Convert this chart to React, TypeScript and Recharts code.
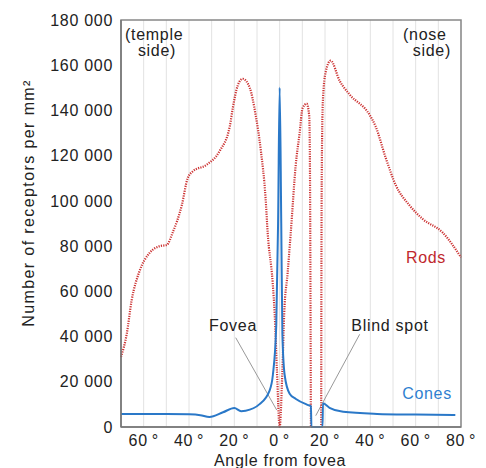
import React from "react";
import {
  LineChart,
  Line,
  XAxis,
  YAxis,
  CartesianGrid,
  ReferenceArea,
  ReferenceLine,
} from "recharts";

// Rod density (receptors / mm²) against angle from fovea, temple side negative.
const rodAngles = [
  -70, -67.5, -65.3, -61.8, -57.4, -52.9, -49.8, -47.2, -43.2, -40.6, -38.4, -32.2,
  -26.5, -22, -20.7, -18.5, -16.3, -13.2, -10.6, -8.4, -6.2, -5.3, -3.1, -2.2, -1.2,
  0, 1.2, 2, 3.5, 4.9, 7.1, 8.8, 10.1, 11.9, 13, 13.3, 13.5, 13.65, 13.8, 18.3, 18.4,
  18.6, 19.1, 20.3, 22.5, 26.5, 30.9, 39.7, 42.3, 46.8, 51.2, 57.3, 63.1, 71.9, 80,
];
const rodValues = [
  31000, 41000, 56000, 69000, 77000, 80000, 80500, 86000, 98000, 110000, 113000, 116000,
  122000, 133000, 141000, 151000, 154000, 150000, 138000, 123000, 101000, 86000, 64000,
  50000, 25000, 0, 25000, 50000, 68000, 86000, 116000, 130000, 141000, 143000, 138000,
  123000, 86000, 40000, 0, 0, 60000, 116000, 145000, 157000, 162000, 153000, 147000,
  138000, 133000, 119000, 107000, 98000, 92000, 86000, 75000,
];

// Cone density, same axis.
const coneAngles = [
  -70, -60, -50, -40, -35, -31, -25, -20, -17, -15, -9, -4.5, -3, -1.5, -0.7, 0, 0.7,
  1.2, 2.2, 4.4, 7, 12.3, 13.8, 14, 18.9, 19.1, 22, 28, 43, 60, 77.5,
];
const coneValues = [
  5800, 5800, 5800, 5600, 5200, 4400, 6500, 8400, 7000, 7200, 10000, 16000, 23000, 45000,
  90000, 150000, 90000, 41000, 23000, 14700, 12500, 9800, 9200, 0, 0, 10500, 8500, 6700,
  5800, 5500, 5300,
];

const xTicks = [-70, -60, -50, -40, -30, -20, -10, 0, 10, 20, 30, 40, 50, 60, 70, 80];
const yTicks = [0, 20000, 40000, 60000, 80000, 100000, 120000, 140000, 160000, 180000];

const rodData = rodAngles.map((a, i) => ({ angle: a, v: rodValues[i] }));
const coneData = coneAngles.map((a, i) => ({ angle: a, v: coneValues[i] }));

const font = "'Liberation Sans', Arial, sans-serif";
const tickStyle = { fill: "#222", fontSize: 16, fontFamily: font, letterSpacing: 0.7 };

const xFmt = (v: number) => (v % 20 === 0 ? `${Math.abs(v)}\u2009°` : "");
const yFmt = (v: number) => (v === 0 ? "0" : `${v / 1000} 000`);

const textBase: React.CSSProperties = {
  position: "absolute",
  fontFamily: font,
  fontSize: 16,
  letterSpacing: 0.7,
  lineHeight: "16px",
  color: "#222",
  whiteSpace: "pre",
};

function Note({ x, y, text, color, align = "center" }: {
  x: number; y: number; text: string; color?: string; align?: "center" | "left" | "right";
}) {
  const shift = align === "center" ? "-50%" : align === "right" ? "-100%" : "0";
  return (
    <div style={{ ...textBase, left: x, top: y, color: color ?? "#222", transform: `translate(${shift}, -50%)` }}>
      {text}
    </div>
  );
}

export default function App() {
  return (
    <div style={{ position: "absolute", left: 0, top: 0, width: 486, height: 468, background: "#fff" }}>
      <LineChart width={486} height={468} margin={{ top: 20, right: 25, bottom: 0, left: 0 }}>
        <CartesianGrid horizontal={false} stroke="#e2e2e2" />
        <XAxis
          type="number"
          dataKey="angle"
          domain={[-70, 80]}
          ticks={xTicks}
          interval={0}
          tickFormatter={xFmt}
          tickLine={false}
          axisLine={{ stroke: "#777", strokeWidth: 1.5 }}
          tick={tickStyle}
          height={41}
        />
        <YAxis
          type="number"
          domain={[0, 180000]}
          ticks={yTicks}
          interval={0}
          tickFormatter={yFmt}
          tickLine={false}
          axisLine={{ stroke: "#777", strokeWidth: 1.5 }}
          tick={tickStyle}
          width={121}
        />
        <ReferenceArea x1={-70} x2={80} y1={0} y2={180000} fill="none" stroke="#888" strokeWidth={1.5} />
        <ReferenceLine segment={[{ x: -19.4, y: 39500 }, { x: -1.3, y: 7500 }]} stroke="#999" />
        <ReferenceLine segment={[{ x: 35.3, y: 41000 }, { x: 15.9, y: 5000 }]} stroke="#999" />
        <Line
          data={rodData}
          dataKey="v"
          type="monotone"
          stroke="#cc3333"
          strokeWidth={2.2}
          strokeDasharray="1.2 1.2"
          dot={false}
          isAnimationActive={false}
        />
        <Line
          data={coneData}
          dataKey="v"
          type="monotone"
          stroke="#2a78c8"
          strokeWidth={2}
          dot={false}
          isAnimationActive={false}
        />
      </LineChart>
      <Note x={125} y={35} text="(temple" align="left" />
      <Note x={157} y={51} text="side)" />
      <Note x={403} y={35} text="(nose" align="left" />
      <Note x={451} y={51} text="side)" align="right" />
      <Note x={233} y={326} text="Fovea" />
      <Note x={390} y={326} text="Blind spot" />
      <Note x={426} y={258} text="Rods" color="#c0282d" />
      <Note x={427} y={394} text="Cones" color="#2f7fd0" />
      <Note x={280} y={461} text="Angle from fovea" />
      <div
        style={{
          ...textBase,
          fontSize: 16,
          letterSpacing: 1.4,
          left: 29,
          top: 203,
          transform: "translate(-50%, -50%) rotate(-90deg)",
        }}
      >
        Number of receptors per mm²
      </div>
    </div>
  );
}
